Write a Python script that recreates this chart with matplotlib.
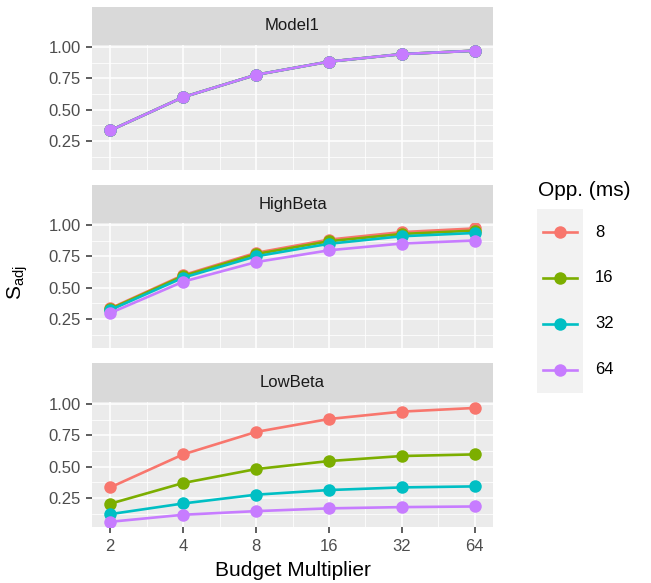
import numpy as np
import matplotlib
matplotlib.use("Agg")
import matplotlib.pyplot as plt
from matplotlib.ticker import FixedLocator, NullFormatter

plt.rcParams['font.family'] = ['Liberation Sans', 'DejaVu Sans']

budget = [2, 4, 8, 16, 32, 64]
budget_labels = ["2", "4", "8", "16", "32", "64"]
opp_levels = ["8", "16", "32", "64"]
colors = ["#F8766D", "#7CAE00", "#00BFC4", "#C77CFF"]
facets = ["Model1", "HighBeta", "LowBeta"]

model1 = {
    "8":  [0.335, 0.60, 0.778, 0.883, 0.943, 0.970],
    "16": [0.335, 0.60, 0.778, 0.883, 0.943, 0.970],
    "32": [0.335, 0.60, 0.778, 0.883, 0.943, 0.970],
    "64": [0.335, 0.60, 0.778, 0.883, 0.943, 0.970],
}
highbeta = {
    "8":  [0.335, 0.600, 0.778, 0.883, 0.943, 0.972],
    "16": [0.330, 0.593, 0.768, 0.870, 0.928, 0.955],
    "32": [0.322, 0.580, 0.750, 0.850, 0.910, 0.936],
    "64": [0.298, 0.548, 0.704, 0.798, 0.852, 0.876],
}
lowbeta = {
    "8":  [0.335, 0.598, 0.777, 0.880, 0.939, 0.968],
    "16": [0.205, 0.370, 0.481, 0.545, 0.585, 0.598],
    "32": [0.122, 0.207, 0.277, 0.314, 0.335, 0.343],
    "64": [0.061, 0.117, 0.146, 0.168, 0.178, 0.183],
}
facet_data = [model1, highbeta, lowbeta]

yticks = [0.25, 0.50, 0.75, 1.00]
ytick_labels = ["0.25", "0.50", "0.75", "1.00"]

W, H = 651, 583
fig = plt.figure(figsize=(W / 100, H / 100), dpi=100)

px_left, px_right = 92, 493
panel_px = [(45, 170, 7), (223, 348, 185), (402, 527, 363)]  # (top, bottom, strip_top)

minor_x = [np.sqrt(budget[i] * budget[i + 1]) for i in range(len(budget) - 1)]
minor_y = [0.125, 0.375, 0.625, 0.875]

LW = 1.9
MS = 9

for k, (name, data) in enumerate(zip(facets, facet_data)):
    top, bot, stop = panel_px[k]
    ax = fig.add_axes([px_left / W, 1 - bot / H, (px_right - px_left) / W, (bot - top) / H])
    ax.set_facecolor("#EBEBEB")
    for s in ax.spines.values():
        s.set_visible(False)
    ax.set_xscale('log', base=2)
    ax.set_xlim(2 ** 0.75, 2 ** 6.25)
    ax.set_ylim(0.0195, 1.0155)
    ax.xaxis.set_major_locator(FixedLocator(budget))
    ax.xaxis.set_minor_locator(FixedLocator(minor_x))
    ax.xaxis.set_minor_formatter(NullFormatter())
    ax.yaxis.set_major_locator(FixedLocator(yticks))
    ax.yaxis.set_minor_locator(FixedLocator(minor_y))
    ax.set_yticklabels(ytick_labels)
    ax.grid(which='major', color='white', linewidth=1.1)
    ax.grid(which='minor', color='white', linewidth=0.55)
    ax.set_axisbelow(True)
    ax.tick_params(axis='y', which='major', length=4.6, width=1.1, color='#333333',
                   labelsize=12, labelcolor='#4D4D4D', pad=3.6)
    ax.tick_params(which='minor', length=0)
    if k == 2:
        ax.set_xticklabels(budget_labels)
        ax.tick_params(axis='x', which='major', length=4.4, width=1.1, color='#333333',
                       labelsize=12, labelcolor='#4D4D4D', pad=4)
        ax.set_xlabel("Budget Multiplier", fontsize=15, color='black', labelpad=5.5)
    else:
        ax.tick_params(axis='x', which='major', length=0, labelbottom=False)
    for lvl, c in zip(opp_levels, colors):
        ax.plot(budget, data[lvl], color=c, linewidth=LW, marker='o',
                markersize=MS, markeredgewidth=0, solid_capstyle='butt')
    # strip
    sax = fig.add_axes([px_left / W, 1 - top / H, (px_right - px_left) / W, (top - stop) / H])
    sax.set_facecolor("#D9D9D9")
    sax.set_xticks([]); sax.set_yticks([])
    for s in sax.spines.values():
        s.set_visible(False)
    sax.text(0.5, 0.5, name, ha='center', va='center', fontsize=12, color='#1A1A1A',
             transform=sax.transAxes)

fig.text(18 / W, 1 - 283 / H, r"$\mathregular{S_{adj}}$", rotation=90, ha='center',
         va='center', fontsize=15, color='black')

# legend
fig.text(538 / W, 1 - 190 / H, "Opp. (ms)", ha='left', va='center', fontsize=15, color='black')
lax = fig.add_axes([537 / W, 1 - 393 / H, 46 / W, 184 / H])
lax.set_facecolor("#F2F2F2")
lax.set_xlim(0, 1)
lax.set_ylim(-0.5, len(opp_levels) - 0.5)
lax.invert_yaxis()
lax.set_xticks([]); lax.set_yticks([])
for s in lax.spines.values():
    s.set_visible(False)
for i, (lvl, c) in enumerate(zip(opp_levels, colors)):
    lax.plot([0.12, 0.88], [i, i], color=c, linewidth=LW)
    lax.plot([0.5], [i], color=c, marker='o', markersize=MS, markeredgewidth=0)
    fig.text(595 / W, 1 - (232 + 46 * i) / H, lvl, ha='left', va='center', fontsize=12,
             color='black')

fig.savefig("out.png", dpi=100)
